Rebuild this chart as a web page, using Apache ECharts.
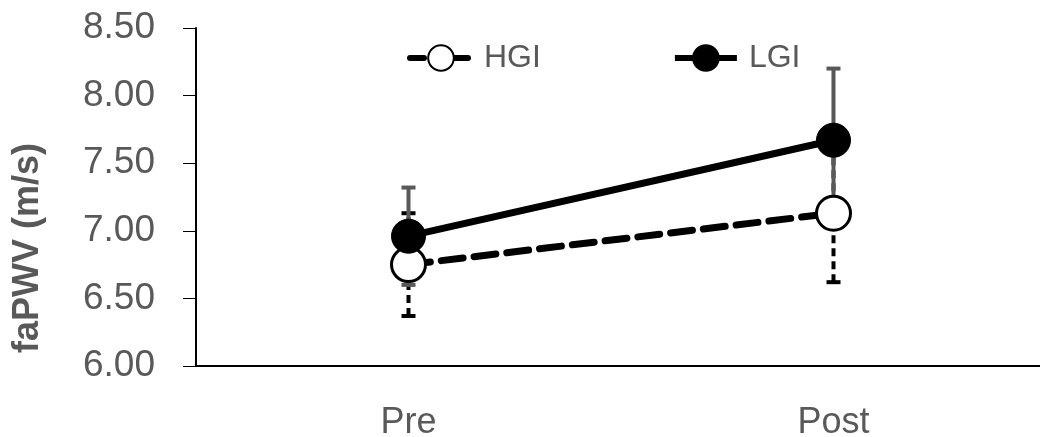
<!DOCTYPE html>
<html><head><meta charset="utf-8">
<script src="https://cdn.jsdelivr.net/npm/echarts@6/dist/echarts.min.js"></script>
<style>html,body{margin:0;padding:0;background:#fff}#c{width:1040px;height:437px}</style>
</head><body><div id="c"></div>
<script>
const categories = ['Pre', 'Post'];
const hgiMean = [6.75, 7.13];
const hgiErr = [0.38, 0.51];
const lgiMean = [6.96, 7.67];
const lgiErr = [0.36, 0.53];
const yMin = 6.0, yMax = 8.5, yStep = 0.5;
const yTitle = 'faPWV (m/s)';

const FONT = 'Liberation Sans';
const GRAY = '#595959';

function makeErr(name, means, errs, color, dash) {
  return {
    name: name, type: 'custom', z: 1, silent: true,
    data: means.map((m, i) => [i, m - errs[i], m + errs[i]]),
    renderItem: (params, api) => {
      const x = api.value(0);
      const lo = api.coord([x, api.value(1)]);
      const hi = api.coord([x, api.value(2)]);
      const w = 7;
      return {type: 'group', children: [
        {type: 'line', shape: {x1: lo[0], y1: lo[1], x2: hi[0], y2: hi[1]}, style: {stroke: color, lineWidth: 4, lineDash: dash}},
        {type: 'line', shape: {x1: lo[0] - w, y1: lo[1], x2: lo[0] + w, y2: lo[1]}, style: {stroke: color, lineWidth: 4}},
        {type: 'line', shape: {x1: hi[0] - w, y1: hi[1], x2: hi[0] + w, y2: hi[1]}, style: {stroke: color, lineWidth: 4}}
      ]};
    }
  };
}

const chart = echarts.init(document.getElementById('c'));
chart.setOption({
  animation: false,
  backgroundColor: '#fff',
  grid: {left: 196, top: 28, width: 850, height: 338, containLabel: false, outerBoundsMode: 'none'},
  legend: {
    data: [
      {name: 'HGI', lineStyle: {width: 6, type: [14, 8], color: '#000'}},
      {name: 'LGI', lineStyle: {width: 6, color: '#000'}}
    ],
    left: 402, top: 37, itemWidth: 62, itemHeight: 32, itemGap: 131,
    textStyle: {fontFamily: FONT, fontSize: 32, color: GRAY, padding: [0, 0, 0, 7]}
  },
  xAxis: {
    type: 'category', data: categories, boundaryGap: true,
    axisLine: {lineStyle: {color: '#000', width: 2}},
    axisTick: {alignWithLabel: true, length: 8, lineStyle: {color: '#000', width: 1}},
    axisLabel: {fontFamily: FONT, fontSize: 36, color: GRAY, margin: 39},
    splitLine: {show: false}
  },
  yAxis: {
    type: 'value', min: yMin, max: yMax, interval: yStep,
    axisLine: {show: true, lineStyle: {color: '#000', width: 2}},
    axisTick: {show: true, length: 13, lineStyle: {color: '#000', width: 1}},
    axisLabel: {fontFamily: FONT, fontSize: 37, color: GRAY, margin: 41, formatter: v => v.toFixed(2)},
    splitLine: {show: false}
  },
  graphic: [{
    type: 'text', x: 28, y: 248, rotation: Math.PI / 2,
    style: {text: yTitle, fontFamily: FONT, fontSize: 36, fontWeight: 'bold', fill: GRAY, align: 'center', verticalAlign: 'middle'}
  }],
  series: [
    makeErr('HGI-err', hgiMean, hgiErr, '#000', [8, 5]),
    makeErr('LGI-err', lgiMean, lgiErr, GRAY, null),
    {
      name: 'HGI', type: 'line', data: hgiMean, z: 3,
      symbol: 'circle', symbolSize: 34,
      lineStyle: {color: '#000', width: 7, type: [22, 11], cap: 'round'},
      itemStyle: {color: '#fff', borderColor: '#000', borderWidth: 3}
    },
    {
      name: 'LGI', type: 'line', data: lgiMean, z: 4,
      symbol: 'circle', symbolSize: 34,
      lineStyle: {color: '#000', width: 7},
      itemStyle: {color: '#000', borderColor: '#000', borderWidth: 1}
    }
  ]
});
</script>
</body></html>
